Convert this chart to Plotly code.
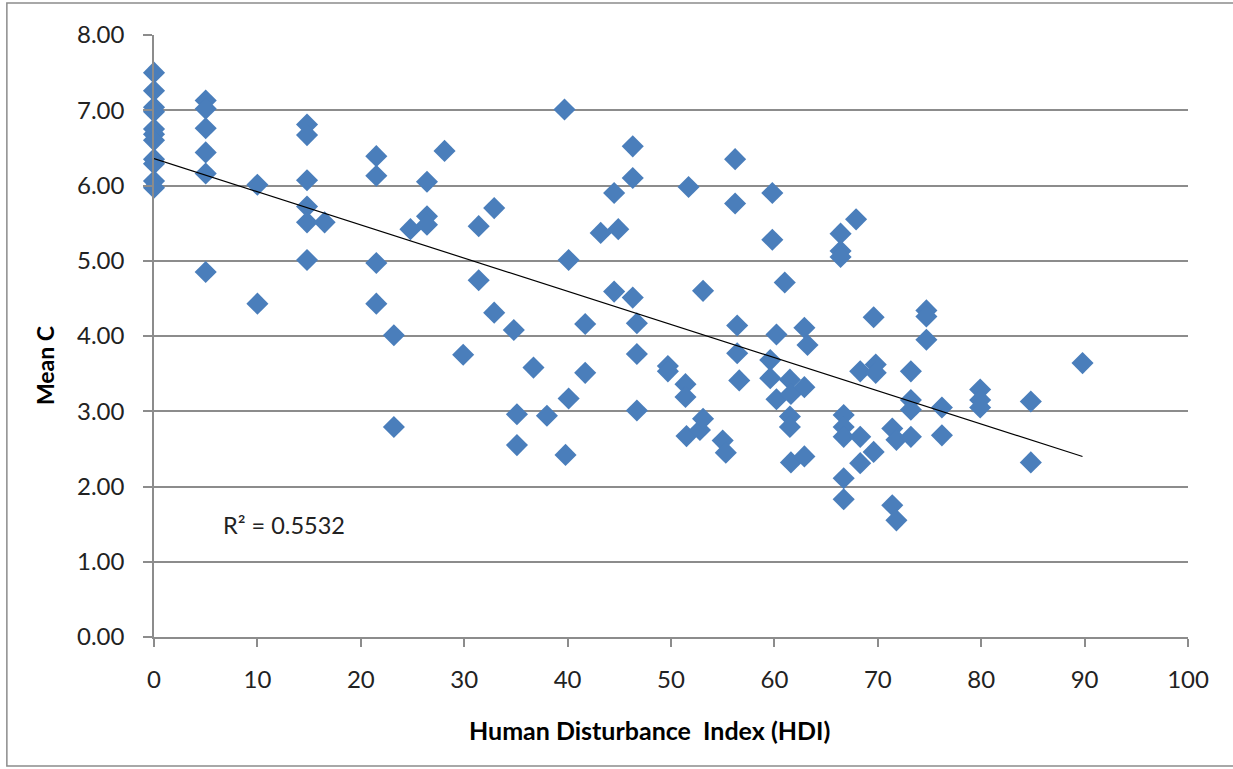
import numpy as np
import plotly.graph_objects as go

# Data (HDI vs Mean C)
hdi = [
    0, 0, 0, 0, 0, 0, 0, 0, 0, 0, 0,
    5, 5, 5, 5, 5, 5,
    10, 10,
    14.8, 14.8, 14.8, 14.8, 14.8, 14.8,
    16.5,
    21.5, 21.5, 21.5, 21.5,
    23.2, 23.2,
    24.8,
    26.4, 26.4, 26.4,
    28.1,
    29.9,
    31.4, 31.4,
    32.9, 32.9,
    34.8,
    35.1, 35.1,
    36.7,
    38.0,
    39.7,
    39.8,
    40.1, 40.1,
    41.7, 41.7,
    43.2,
    44.5, 44.5,
    44.9,
    46.3, 46.3, 46.3,
    46.7, 46.7, 46.7,
    49.7, 49.7,
    51.4, 51.4,
    51.5,
    51.7,
    52.8,
    53.1, 53.1,
    55.0,
    55.3,
    56.2, 56.2,
    56.4, 56.4,
    56.6,
    59.6, 59.6,
    59.8, 59.8,
    60.2, 60.2,
    61.0,
    61.5, 61.5, 61.5,
    61.6, 61.6,
    62.9, 62.9, 62.9,
    63.2,
    66.4, 66.4, 66.4,
    66.7, 66.7, 66.7, 66.7, 66.7,
    67.9,
    68.3, 68.3, 68.3,
    69.6, 69.6,
    69.8, 69.8,
    71.4, 71.4,
    71.8, 71.8,
    73.2, 73.2, 73.2, 73.2,
    74.7, 74.7, 74.7,
    76.2, 76.2,
    79.9, 79.9, 79.9,
    84.8, 84.8,
    89.8,
]
mean_c = [
    7.50, 7.26, 7.04, 6.98, 6.75, 6.68, 6.60, 6.35, 6.29, 6.06, 5.97,
    7.13, 7.02, 6.76, 6.44, 6.16, 4.85,
    6.01, 4.43,
    6.81, 6.67, 6.07, 5.72, 5.51, 5.01,
    5.51,
    6.39, 6.13, 4.97, 4.43,
    4.01, 2.79,
    5.42,
    6.05, 5.59, 5.48,
    6.46,
    3.75,
    5.46, 4.74,
    5.70, 4.31,
    4.08,
    2.96, 2.55,
    3.58,
    2.94,
    7.01,
    2.42,
    5.01, 3.17,
    4.16, 3.51,
    5.37,
    5.90, 4.59,
    5.42,
    6.52, 6.10, 4.51,
    4.17, 3.76, 3.01,
    3.60, 3.53,
    3.36, 3.19,
    2.67,
    5.98,
    2.75,
    4.60, 2.90,
    2.61,
    2.45,
    6.35, 5.76,
    4.14, 3.77,
    3.41,
    3.68, 3.44,
    5.90, 5.28,
    4.02, 3.16,
    4.71,
    3.42, 2.93, 2.79,
    3.23, 2.32,
    4.11, 3.32, 2.40,
    3.88,
    5.36, 5.13, 5.05,
    2.95, 2.79, 2.66, 2.11, 1.83,
    5.55,
    3.53, 2.66, 2.31,
    4.25, 2.46,
    3.62, 3.51,
    2.77, 1.75,
    2.62, 1.55,
    3.53, 3.15, 3.02, 2.66,
    4.34, 4.26, 3.95,
    3.05, 2.68,
    3.29, 3.15, 3.05,
    3.13, 2.32,
    3.64,
]
r2_label = "R² = 0.5532"
x_ticks = list(range(0, 101, 10))
y_ticks = [0, 1, 2, 3, 4, 5, 6, 7, 8]

# Linear trendline from the data
slope, intercept = np.polyfit(hdi, mean_c, 1)
tx = [min(hdi), max(hdi)]
ty = [intercept + slope * v for v in tx]

FONT = "Lato"
GRAY = "#8c8c8c"

fig = go.Figure()
fig.add_trace(go.Scatter(
    x=hdi, y=mean_c, mode="markers",
    marker=dict(symbol="diamond", size=17, color="#4a7ebb",
                line=dict(width=0)),
    cliponaxis=False, showlegend=False,
))
fig.add_trace(go.Scatter(
    x=tx, y=ty, mode="lines",
    line=dict(color="black", width=1.2),
    showlegend=False, cliponaxis=False,
))

fig.update_layout(
    width=1233, height=769,
    margin=dict(l=154, r=45, t=35, b=132),
    paper_bgcolor="white", plot_bgcolor="white",
    font=dict(family=FONT, size=24, color="#222"),
    xaxis=dict(
        range=[0, 100], tickvals=x_ticks, showgrid=False, zeroline=False,
        showline=True, linecolor=GRAY, linewidth=1.5,
        ticks="outside", ticklen=8, tickcolor=GRAY, tickwidth=1.5,
        ticklabelstandoff=12,
        tickfont=dict(family=FONT, size=24, color="#222"),
    ),
    yaxis=dict(
        range=[0, 8], tickvals=y_ticks, tickformat=".2f",
        showgrid=True, gridcolor=GRAY, gridwidth=1.5, zeroline=False,
        showline=True, linecolor=GRAY, linewidth=1.5,
        ticks="outside", ticklen=9, tickcolor=GRAY, tickwidth=1.5,
        ticklabelstandoff=14,
        tickfont=dict(family=FONT, size=24, color="#222"),
    ),
    annotations=[
        dict(text="<b>Human Disturbance&nbsp;&nbsp;Index (HDI)</b>", xref="paper", yref="paper",
             x=0.479, y=-0.1545, xanchor="center", yanchor="middle", showarrow=False,
             font=dict(family=FONT, size=25, color="black")),
        dict(text="<b>Mean C</b>", xref="paper", yref="paper", textangle=-90,
             x=-0.1054, y=0.45, xanchor="center", yanchor="middle", showarrow=False,
             font=dict(family=FONT, size=23, color="black")),
        dict(text=r2_label, xref="x", yref="y", x=6.5, y=1.49,
             xanchor="left", yanchor="middle", showarrow=False,
             font=dict(family=FONT, size=23.5, color="#222")),
    ],
    shapes=[
        dict(type="rect", xref="paper", yref="paper",
             x0=-0.1423, x1=1.06, y0=-0.2143, y1=1.0532,
             line=dict(color=GRAY, width=1.5), layer="below"),
    ],
)

fig.write_html("out.html")
